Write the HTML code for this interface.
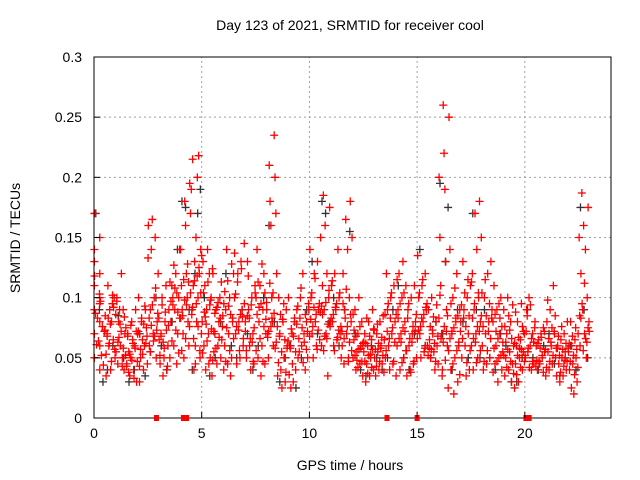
<!DOCTYPE html>
<html><head><meta charset="utf-8"><style>
html,body{margin:0;padding:0;background:#fff;}
svg{display:block;font-family:"Liberation Sans",sans-serif;}
</style></head><body>
<svg id="chart" width="640" height="480" viewBox="0 0 640 480">
<rect width="640" height="480" fill="#fff"/>
<g id="grid"></g>
<g id="black"></g>
<g id="red"></g>
<rect x="94" y="57" width="517" height="361" fill="none" stroke="#000" stroke-width="1"/>
<g id="marks"></g>
<g id="axes"></g>
<text x="350" y="30" text-anchor="middle" font-size="14">Day 123 of 2021, SRMTID for receiver cool</text>
<text x="350" y="470" text-anchor="middle" font-size="14">GPS time / hours</text>
<text transform="translate(20,238) rotate(-90)" text-anchor="middle" font-size="14">SRMTID / TECUs</text>
</svg>
<script>
const xTicks=[0,5,10,15,20];
const yTicks=[0,0.05,0.1,0.15,0.2,0.25,0.3];
const yTickLabels=["0","0.05","0.1","0.15","0.2","0.25","0.3"];
const bucketWidth=0.5;
const redV=[
[0.17,0.15,0.14,0.12,0.11,0.1,0.09,0.08,0.07,0.06,0.05,0.04,0.13,0.095],
[0.11,0.1,0.09,0.085,0.08,0.07,0.065,0.06,0.05,0.04,0.035,0.095],
[0.12,0.1,0.09,0.08,0.07,0.06,0.055,0.05,0.045,0.04,0.09,0.075],
[0.09,0.08,0.07,0.06,0.05,0.045,0.04,0.035,0.03,0.065,0.055],
[0.1,0.09,0.08,0.07,0.06,0.05,0.045,0.04,0.03,0.075,0.065],
[0.165,0.16,0.15,0.14,0.12,0.1,0.09,0.08,0.07,0.06,0.05],
[0.11,0.1,0.09,0.08,0.07,0.06,0.05,0.045,0.04,0.035,0.065],
[0.14,0.12,0.11,0.1,0.09,0.08,0.07,0.06,0.05,0.045,0.1],
[0.195,0.18,0.17,0.16,0.14,0.12,0.11,0.1,0.09,0.08,0.07,0.06,0.05],
[0.218,0.215,0.2,0.19,0.15,0.14,0.13,0.12,0.11,0.1,0.09,0.08,0.07,0.06,0.05,0.04],
[0.14,0.13,0.12,0.11,0.1,0.09,0.08,0.07,0.06,0.05,0.04,0.035],
[0.12,0.1,0.09,0.085,0.08,0.07,0.065,0.06,0.055,0.05,0.045],
[0.14,0.12,0.1,0.09,0.08,0.07,0.06,0.05,0.045,0.04,0.035],
[0.145,0.13,0.12,0.1,0.09,0.08,0.07,0.06,0.05,0.045],
[0.13,0.11,0.1,0.09,0.08,0.07,0.06,0.05,0.045,0.04],
[0.14,0.12,0.11,0.1,0.09,0.08,0.07,0.06,0.05,0.045,0.035],
[0.235,0.21,0.2,0.18,0.17,0.16,0.12,0.1,0.09,0.08,0.07,0.06,0.05],
[0.1,0.09,0.08,0.07,0.06,0.05,0.04,0.035,0.03,0.025],
[0.1,0.09,0.08,0.07,0.06,0.05,0.04,0.03,0.025],
[0.12,0.1,0.09,0.08,0.07,0.06,0.055,0.05,0.04],
[0.14,0.13,0.12,0.1,0.09,0.08,0.07,0.065,0.06,0.05],
[0.185,0.175,0.16,0.15,0.12,0.11,0.1,0.09,0.08,0.07,0.06,0.035],
[0.14,0.12,0.11,0.1,0.09,0.08,0.07,0.065,0.06,0.05],
[0.18,0.165,0.15,0.14,0.12,0.1,0.09,0.08,0.07,0.06,0.05,0.045],
[0.1,0.09,0.08,0.07,0.065,0.06,0.055,0.05,0.045,0.04,0.035],
[0.09,0.08,0.07,0.065,0.06,0.055,0.05,0.045,0.04,0.035,0.03],
[0.085,0.08,0.07,0.065,0.06,0.055,0.05,0.045,0.04,0.035],
[0.12,0.11,0.1,0.09,0.08,0.07,0.06,0.05,0.045,0.04],
[0.13,0.12,0.11,0.1,0.09,0.08,0.07,0.06,0.05,0.04,0.035],
[0.11,0.1,0.09,0.08,0.07,0.06,0.05,0.045,0.04,0.035],
[0.135,0.12,0.11,0.1,0.09,0.08,0.07,0.06,0.055,0.05],
[0.1,0.09,0.08,0.07,0.065,0.06,0.055,0.05,0.045,0.04],
[0.26,0.25,0.22,0.2,0.19,0.15,0.13,0.11,0.09,0.07,0.06,0.04,0.025],
[0.14,0.12,0.1,0.09,0.08,0.07,0.06,0.05,0.04,0.03,0.02],
[0.13,0.11,0.1,0.09,0.08,0.07,0.06,0.05,0.04,0.035],
[0.18,0.17,0.15,0.14,0.12,0.1,0.09,0.08,0.07,0.06,0.05,0.04],
[0.13,0.12,0.1,0.09,0.08,0.07,0.06,0.05,0.045,0.04],
[0.11,0.1,0.09,0.08,0.07,0.06,0.055,0.05,0.045,0.04,0.03],
[0.1,0.09,0.08,0.07,0.06,0.055,0.05,0.045,0.04,0.035,0.03],
[0.095,0.08,0.07,0.065,0.06,0.055,0.05,0.045,0.04,0.03,0.025],
[0.1,0.09,0.08,0.07,0.06,0.055,0.05,0.045,0.04],
[0.075,0.07,0.065,0.06,0.055,0.05,0.045,0.04,0.035],
[0.11,0.09,0.08,0.07,0.06,0.055,0.05,0.045,0.04,0.035],
[0.08,0.07,0.065,0.06,0.055,0.05,0.045,0.04,0.035,0.03],
[0.08,0.07,0.065,0.06,0.055,0.05,0.045,0.04,0.03,0.02],
[0.187,0.175,0.16,0.15,0.14,0.12,0.1,0.09,0.08,0.07,0.06,0.05]
];
const redV2=[
[0.103,0.087,0.076,0.064,0.118,0.052,0.083,0.072,0.097,0.061,0.044],
[0.092,0.078,0.068,0.057,0.047,0.083,0.073,0.102,0.062,0.053],
[0.097,0.084,0.072,0.063,0.052,0.043,0.067,0.086,0.058,0.078],
[0.077,0.068,0.058,0.048,0.038,0.072,0.062,0.053,0.043,0.033],
[0.093,0.083,0.072,0.062,0.053,0.043,0.068,0.078,0.057,0.047],
[0.133,0.108,0.094,0.083,0.073,0.064,0.055,0.087,0.068,0.077],
[0.094,0.083,0.073,0.063,0.052,0.043,0.058,0.068,0.077,0.088],
[0.127,0.113,0.104,0.094,0.083,0.073,0.064,0.054,0.108,0.097,0.088],
[0.128,0.115,0.104,0.094,0.085,0.076,0.066,0.056,0.113,0.098,0.083],
[0.125,0.114,0.104,0.095,0.086,0.076,0.066,0.056,0.045,0.135,0.118,0.092],
[0.124,0.113,0.104,0.094,0.084,0.074,0.064,0.054,0.045,0.088,0.098,0.078],
[0.113,0.096,0.087,0.076,0.067,0.058,0.048,0.083,0.092,0.072],
[0.128,0.114,0.095,0.086,0.075,0.066,0.056,0.047,0.083,0.093,0.105],
[0.137,0.124,0.113,0.095,0.086,0.076,0.066,0.056,0.103,0.084,0.073],
[0.118,0.104,0.094,0.085,0.075,0.066,0.056,0.047,0.083,0.072,0.063],
[0.128,0.113,0.104,0.095,0.086,0.076,0.066,0.056,0.047,0.092,0.082],
[0.112,0.096,0.087,0.076,0.067,0.058,0.083,0.072,0.063,0.104],
[0.095,0.086,0.076,0.065,0.055,0.046,0.038,0.082,0.068,0.058],
[0.093,0.083,0.074,0.064,0.055,0.045,0.036,0.078,0.068,0.058],
[0.108,0.095,0.086,0.075,0.066,0.057,0.046,0.083,0.072,0.063],
[0.116,0.104,0.095,0.086,0.076,0.068,0.057,0.092,0.082,0.073],
[0.106,0.096,0.086,0.076,0.066,0.056,0.088,0.078,0.068,0.093],
[0.114,0.104,0.095,0.086,0.076,0.067,0.056,0.083,0.073,0.092],
[0.107,0.095,0.086,0.076,0.066,0.056,0.047,0.083,0.072,0.063],
[0.086,0.076,0.068,0.062,0.057,0.052,0.047,0.042,0.073,0.058,0.048],
[0.083,0.074,0.068,0.062,0.057,0.052,0.047,0.042,0.037,0.063,0.053],
[0.078,0.073,0.067,0.062,0.057,0.052,0.047,0.043,0.038,0.058],
[0.104,0.095,0.086,0.075,0.066,0.056,0.047,0.083,0.072,0.063],
[0.115,0.104,0.095,0.086,0.075,0.066,0.056,0.046,0.083,0.072,0.063],
[0.095,0.086,0.076,0.066,0.056,0.047,0.038,0.083,0.072,0.063],
[0.115,0.104,0.095,0.086,0.076,0.066,0.058,0.083,0.073,0.092],
[0.094,0.084,0.076,0.068,0.062,0.057,0.052,0.047,0.073,0.058],
[0.102,0.085,0.076,0.066,0.056,0.048,0.035,0.083,0.072,0.063],
[0.108,0.095,0.085,0.075,0.066,0.056,0.045,0.036,0.083,0.072,0.063],
[0.115,0.104,0.094,0.085,0.076,0.066,0.056,0.046,0.083,0.072],
[0.113,0.104,0.095,0.085,0.076,0.066,0.056,0.046,0.083,0.072,0.063],
[0.115,0.104,0.095,0.085,0.076,0.066,0.056,0.047,0.083,0.072],
[0.095,0.086,0.076,0.066,0.058,0.052,0.047,0.038,0.083,0.072,0.063],
[0.094,0.085,0.076,0.066,0.057,0.052,0.047,0.042,0.037,0.073,0.063],
[0.088,0.076,0.067,0.062,0.057,0.052,0.047,0.042,0.036,0.072,0.058],
[0.094,0.085,0.075,0.066,0.058,0.052,0.047,0.042,0.072,0.063],
[0.072,0.067,0.062,0.057,0.052,0.047,0.043,0.038,0.058,0.048],
[0.098,0.085,0.075,0.066,0.058,0.052,0.047,0.042,0.072,0.063],
[0.076,0.068,0.062,0.057,0.052,0.047,0.043,0.038,0.058,0.048],
[0.075,0.068,0.062,0.057,0.052,0.047,0.042,0.036,0.025,0.058],
[0.112,0.095,0.085,0.075,0.066,0.056,0.083,0.072,0.063]
];
const blackV=[
[0.17,0.09,0.03],[0.06,0.04],[0.085,0.05],[0.04,0.03],[0.07,0.035],[0.1,0.055],[0.06,0.04],[0.14,0.08],
[0.18,0.175,0.09],[0.19,0.17,0.12,0.04],[0.1,0.035],[0.08,0.05],[0.12,0.06],[0.09,0.05],[0.07,0.04],[0.1,0.06],
[0.16,0.08],[0.05,0.03],[0.06,0.025],[0.09,0.05],[0.13,0.07],[0.18,0.17,0.08],[0.1,0.06],[0.155,0.09],
[0.07,0.04],[0.06,0.035],[0.05,0.04],[0.09,0.05],[0.11,0.05],[0.07,0.04],[0.14,0.06],[0.08,0.05],
[0.195,0.175,0.13,0.07],[0.09,0.04],[0.08,0.05],[0.17,0.09,0.05],[0.09,0.05],[0.07,0.04],[0.06,0.03],[0.05,0.03],
[0.09,0.05],[0.06,0.04],[0.07,0.045],[0.05,0.035],[0.06,0.04],[0.175,0.09,0.05]
];
const gapHours=[2.9,4.15,4.3,13.6,15.0,20.05,20.2];

const NS="http://www.w3.org/2000/svg";
const X0=94,X1=611,Y0=418,Y1=57,XMAX=24,YMAX=0.3;
function xs(h){return X0+(X1-X0)*h/XMAX;}
function ys(v){return Y0-(Y0-Y1)*v/YMAX;}
function mk(tag,parent,attrs){const e=document.createElementNS(NS,tag);for(const k in attrs)e.setAttribute(k,attrs[k]);parent.appendChild(e);return e;}

const grid=document.getElementById('grid'),axes=document.getElementById('axes');
xTicks.forEach((t,i)=>{
  const x=xs(t);
  if(t>0){const l=mk('line',grid,{x1:x,x2:x,y1:Y0,y2:Y1,stroke:'#a0a0a0','stroke-dasharray':'2,3'});
  
  }
  const tk=mk('line',axes,{x1:x,x2:x,y1:Y0,y2:Y0-6,stroke:'#000'});
  
  
  const tx=mk('text',axes,{x:x,y:Y0+20,'text-anchor':'middle','font-size':'14'});
  tx.textContent=String(t);
  
  
});
yTicks.forEach((t,i)=>{
  const y=ys(t);
  if(t>0&&t<YMAX){const l=mk('line',grid,{x1:X0,x2:X1,y1:y,y2:y,stroke:'#a0a0a0','stroke-dasharray':'2,3'});
  
  }
  const tk=mk('line',axes,{x1:X0,x2:X0+6,y1:y,y2:y,stroke:'#000'});
  
  
  const tx=mk('text',axes,{x:X0-12,y:y+5,'text-anchor':'end','font-size':'14'});
  tx.textContent=yTickLabels[i];
  
  
});
function plotSeries(arr,gid,color,shift){
  const g=document.getElementById(gid);
  arr.forEach((vals,b)=>{
    const n=vals.length;
    vals.forEach((v,j)=>{
      const frac=((((j*7+b*3+shift)%n)+0.5)/n+shift*0.37)%1;
      const x=xs(b*bucketWidth+frac*bucketWidth),y=ys(v);
      const p=mk('path',g,{d:`M${x-4},${y}h8M${x},${y-4}v8`,stroke:color,'stroke-width':'1.3',fill:'none'});
      
      
    });
  });
}
plotSeries(blackV,'black','#333',0);
plotSeries(redV,'red','#ff0000',0);
plotSeries(redV2,'red','#ff0000',1);
const mg=document.getElementById('marks');
gapHours.forEach(h=>{
  const r=mk('rect',mg,{x:xs(h)-2.5,y:Y0-3,width:5,height:6,fill:'#ff0000'});
  
  
});
</script>
</body></html>
